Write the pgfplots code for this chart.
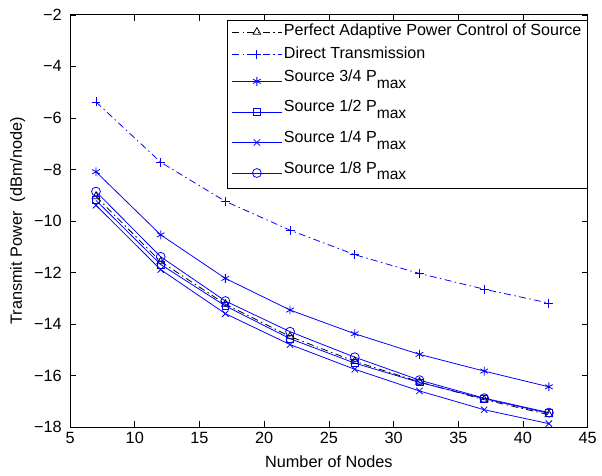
\documentclass[border={5pt 3pt 0pt 4pt}]{standalone}
\usepackage{fontspec}
\setmainfont{Liberation Sans}
\usepackage{pgfplots}
\pgfplotsset{compat=1.18}
\newcommand{\pmax}{P\raisebox{-7pt}{\fontsize{15.8}{18}\selectfont max}}
\begin{document}
\fontsize{16}{19}\selectfont
\begin{tikzpicture}
\begin{axis}[
  scale only axis,
  width=525pt, height=418pt,
  xmin=5, xmax=45, ymin=-18, ymax=-2,
  xtick={5,10,...,45},
  ytick={-18,-16,...,-2},
  yticklabels={−18,−16,−14,−12,−10,−8,−6,−4,−2},
  tick align=inside,
  major tick length=6pt,
  tick style={black, line width=0.6pt},
  axis line style={line width=0.8pt},
  xlabel={Number of Nodes},
  ylabel={Transmit Power\ \ (dBm/node)},
  label style={font=\fontsize{16.5}{19}\selectfont},
  ticklabel style={font=\fontsize{16.5}{19}\selectfont},
  yticklabel style={xshift=-3pt},
  /pgf/number format/assume math mode=true,
  xlabel style={yshift=-1pt},
  ylabel style={yshift=-2pt},
  legend style={at={(rel axis cs:1,0.988)}, anchor=north east, draw=black, line width=0.8pt,
    font=\fontsize{16.3}{19}\selectfont, cells={anchor=west}, inner ysep=2pt, inner xsep=4pt, row sep=3pt},
  legend image code/.code={\draw[mark repeat=2,mark phase=2,#1] plot coordinates {(0cm,0cm)(0.88cm,0cm)(1.76cm,0cm)};},
  every axis plot/.append style={line width=0.8pt, mark size=4.5pt},
]
\addplot[black, dash pattern=on 7pt off 3.5pt on 1.5pt off 3.5pt, mark=triangle, mark options={solid, black}] coordinates {
(7,-9.05) (12,-11.58) (17,-13.23) (22,-14.49) (27,-15.45) (32,-16.25) (37,-16.94) (42,-17.52)};
\addlegendentry[text height=12pt, text depth=4pt]{Perfect Adaptive Power Control of Source}
\addplot[blue, dash pattern=on 7pt off 3.5pt on 1.5pt off 3.5pt, mark=+, mark options={solid, blue}] coordinates {
(7,-5.38) (12,-7.72) (17,-9.24) (22,-10.36) (27,-11.31) (32,-12.04) (37,-12.65) (42,-13.19)};
\addlegendentry[text height=12pt, text depth=4pt]{Direct Transmission}
\addplot[blue, mark=asterisk] coordinates {
(7,-8.09) (12,-10.54) (17,-12.23) (22,-13.46) (27,-14.38) (32,-15.18) (37,-15.83) (42,-16.44)};
\addlegendentry[text height=12pt, text depth=12pt]{Source 3/4 \pmax}
\addplot[blue, mark=square, mark size=3.5pt] coordinates {
(7,-9.2) (12,-11.69) (17,-13.3) (22,-14.57) (27,-15.52) (32,-16.27) (37,-16.9) (42,-17.47)};
\addlegendentry[text height=12pt, text depth=12pt]{Source 1/2 \pmax}
\addplot[blue, mark=x] coordinates {
(7,-9.39) (12,-11.89) (17,-13.6) (22,-14.8) (27,-15.76) (32,-16.6) (37,-17.33) (42,-17.87)};
\addlegendentry[text height=12pt, text depth=12pt]{Source 1/4 \pmax}
\addplot[blue, mark=o] coordinates {
(7,-8.86) (12,-11.39) (17,-13.11) (22,-14.30) (27,-15.29) (32,-16.18) (37,-16.88) (42,-17.44)};
\addlegendentry[text height=12pt, text depth=12pt]{Source 1/8 \pmax}
\end{axis}
\end{tikzpicture}
\end{document}
